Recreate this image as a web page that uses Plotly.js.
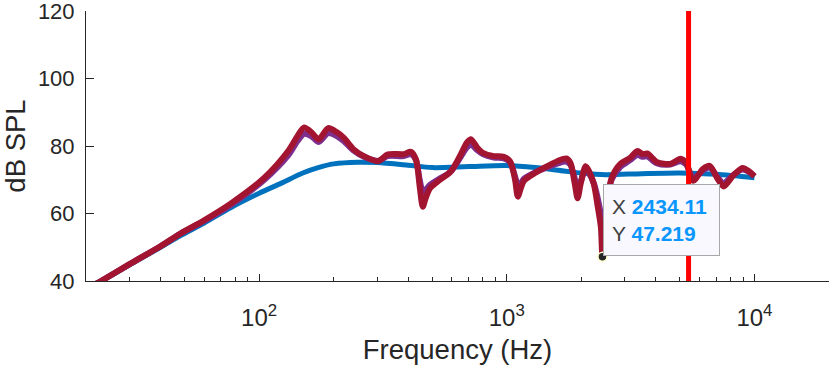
<!DOCTYPE html>
<html>
<head>
<meta charset="utf-8">
<script src="https://cdn.plot.ly/plotly-3.0.1.min.js"></script>
<style>html,body{margin:0;padding:0;background:#fff;}#chart{width:830px;height:368px;}</style>
</head>
<body>
<div id="chart"></div>
<script>
// ---- data ----
const freqBlue = [20, 23, 30, 40, 48, 60, 77, 100, 123, 150, 173, 200, 250, 300, 400, 500, 700, 1000, 1300, 1700, 2000, 2500, 3500, 5000, 7000, 10000];
const splBlue  = [38.0, 40.0, 44.8, 50.0, 53.4, 57.2, 61.8, 66.0, 69.0, 72.0, 73.6, 74.7, 75.2, 75.1, 74.3, 73.6, 73.9, 74.2, 73.6, 72.6, 72.0, 71.5, 71.8, 72.0, 71.6, 70.6];

const freqRed = [20, 23, 30, 40, 48, 60, 77, 105, 131, 143, 152, 163, 174, 190, 205, 220, 241, 265, 302, 331, 384, 410, 430, 445, 458, 470, 490, 527, 595, 652, 690, 716, 760, 800, 887, 973, 1030, 1080, 1108, 1140, 1173, 1300, 1412, 1600, 1740, 1807, 1880, 1932, 1990, 2081, 2150, 2245, 2330, 2399, 2434.11, 2500, 2580, 2650, 2875, 3150, 3370, 3530, 3690, 4050, 4580, 5030, 5300, 5660, 6200, 6600, 7060, 7500, 8200, 8950, 9500, 10000];
const splRed  = [37.5, 40.0, 45.0, 50.3, 54.0, 58.0, 63.0, 70.6, 78.5, 83.0, 85.5, 84.0, 82.0, 85.3, 84.2, 82.4, 79.0, 77.0, 75.5, 77.5, 77.6, 78.3, 76.0, 68.0, 62.0, 64.5, 67.5, 69.5, 72.5, 77.5, 81.0, 82.0, 79.5, 78.0, 77.0, 76.8, 75.5, 70.0, 65.0, 67.5, 69.7, 72.0, 73.5, 75.5, 76.3, 75.0, 69.0, 64.5, 69.0, 74.0, 72.5, 68.8, 62.0, 55.9, 47.219, 56.0, 66.0, 70.5, 74.7, 76.5, 78.5, 77.6, 77.8, 75.2, 74.7, 76.2, 75.0, 69.7, 73.2, 74.1, 70.6, 68.0, 71.2, 73.5, 72.5, 71.0];
const splPurple = [37.5, 40.0, 45.0, 50.3, 54.0, 57.8, 62.6, 70.0, 77.2, 81.5, 83.6, 82.8, 81.2, 83.8, 83.0, 81.4, 78.6, 76.8, 75.6, 77.0, 77.0, 77.6, 75.8, 70.0, 66.5, 67.0, 68.5, 70.0, 72.5, 76.8, 79.6, 80.4, 78.8, 77.6, 76.6, 76.3, 75.2, 71.0, 68.5, 69.0, 70.3, 72.2, 73.3, 74.8, 75.4, 74.4, 70.5, 67.0, 69.5, 73.0, 71.8, 69.0, 64.5, 59.5, 54.0, 59.0, 66.5, 70.0, 73.8, 75.8, 77.4, 76.8, 76.9, 74.8, 74.5, 75.5, 74.5, 70.5, 72.8, 73.6, 71.0, 69.0, 71.4, 73.0, 72.3, 71.0];

const cursorFreq = [5420, 5420];
const cursorSpl  = [40, 120];

const tipX = [2434.11];
const tipY = [47.219];
const tipLabelX = '2434.11';
const tipLabelY = '47.219';

const xTickVals = [100, 1000, 10000];
const xTickText = ['10<sup>2</sup>', '10<sup>3</sup>', '10<sup>4</sup>'];
const xMinorVals = [20, 30, 40, 50, 60, 70, 80, 90, 200, 300, 400, 500, 600, 700, 800, 900, 2000, 3000, 4000, 5000, 6000, 7000, 8000, 9000, 20000];
const yTickVals = [40, 60, 80, 100, 120];
const yTickText = ['40', '60', '80', '100', '120'];
const xRange = [20, 20000];
const yRange = [40, 120];

// ---- chart ----
const FONT = 'Liberation Sans, Arial, Helvetica, sans-serif';
const AX = '#262626';

const traces = [
  {x: freqBlue, y: splBlue, mode: 'lines', line: {color: '#0072BD', width: 5, shape: 'spline', smoothing: 0.8}, hoverinfo: 'skip'},
  {x: freqRed, y: splPurple, mode: 'lines', line: {color: '#7E2F8E', width: 6, shape: 'spline', smoothing: 0.8}, hoverinfo: 'skip'},
  {x: freqRed, y: splRed, mode: 'lines', line: {color: '#A2142F', width: 6, shape: 'spline', smoothing: 0.8}, hoverinfo: 'skip'},
  {x: cursorFreq, y: cursorSpl, mode: 'lines', line: {color: '#FF0000', width: 5}, hoverinfo: 'skip'},
  {x: tipX, y: tipY, mode: 'markers', marker: {size: 9, color: '#262626', line: {color: '#FFFFC8', width: 1.5}}, cliponaxis: false, hoverinfo: 'skip'}
];

const layout = {
  width: 830, height: 368,
  margin: {l: 86, r: 1, t: 11, b: 87},
  paper_bgcolor: '#ffffff', plot_bgcolor: '#ffffff',
  showlegend: false,
  font: {family: FONT, color: AX},
  xaxis: {
    type: 'log', range: xRange.map(Math.log10),
    tickmode: 'array', tickvals: xTickVals, ticktext: xTickText,
    ticks: 'inside', ticklen: 7, tickwidth: 1, tickcolor: AX,
    minor: {tickmode: 'array', tickvals: xMinorVals, ticks: 'inside', ticklen: 4, tickwidth: 1, tickcolor: AX, showgrid: false},
    showline: true, linecolor: AX, linewidth: 1, mirror: false,
    showgrid: false, zeroline: false,
    ticklabeloverflow: 'allow', ticklabelstandoff: 15,
    tickfont: {family: FONT, size: 24, color: AX},
    title: {text: 'Frequency (Hz)', font: {family: FONT, size: 27.5, color: AX}, standoff: 9}
  },
  yaxis: {
    range: yRange,
    tickmode: 'array', tickvals: yTickVals, ticktext: yTickText,
    ticks: 'inside', ticklen: 8, tickwidth: 1, tickcolor: AX,
    showline: true, linecolor: AX, linewidth: 1,
    showgrid: false, zeroline: false,
    ticklabeloverflow: 'allow', ticklabelstandoff: 6,
    tickfont: {family: FONT, size: 22, color: AX},
    title: {text: 'dB SPL', font: {family: FONT, size: 27.5, color: AX}, standoff: 10}
  },
  annotations: [{
    xref: 'x', yref: 'y', x: Math.log10(tipX[0]), y: tipY[0],
    xanchor: 'left', yanchor: 'bottom', showarrow: false,
    xshift: 1, yshift: 1,
    text: '<span style="color:#404040">X</span> <b><span style="color:#0A96FF">' + tipLabelX + '</span></b><br><span style="color:#404040">Y</span> <b><span style="color:#0A96FF">' + tipLabelY + '</span></b>',
    align: 'left', width: 99, height: 54,
    font: {family: FONT, size: 21, color: '#404040'},
    bgcolor: '#F8F8FE', bordercolor: '#A8A8A8', borderwidth: 1, borderpad: 8
  }]
};

Plotly.newPlot('chart', traces, layout, {staticPlot: true, displayModeBar: false});
</script>
</body>
</html>
